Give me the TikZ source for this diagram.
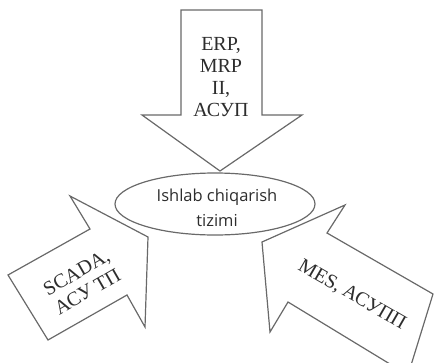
\documentclass[tikz,border=0pt]{standalone}
\usepackage{fontspec}
\setmainfont{Liberation Serif}
\newfontfamily\uifont{Open Sans}
\usetikzlibrary{shapes.geometric}
\definecolor{lc}{RGB}{105,105,105}
\definecolor{tc}{RGB}{45,45,45}
\tikzset{
  arrowshape/.style={draw=lc, line width=1.2pt, line join=miter, fill=white},
  serif/.style={text=tc, font=\fontsize{20}{22}\selectfont, align=center, inner sep=0pt},
  uitext/.style={text=tc, font=\uifont\fontsize{16.5}{25}\selectfont, align=center, inner sep=0pt}
}
\begin{document}
\begin{tikzpicture}[x=1pt,y=-1pt]
\useasboundingbox (0,0) rectangle (434,362);
\begin{scope}
\clip (0,0) rectangle (434,362);
% top arrow
\draw[arrowshape] (181,10) -- (262,10) -- (262,115) -- (302,115) -- (220,171) -- (142,115) -- (181,115) -- cycle;
% left arrow
\draw[arrowshape] (70,196) -- (148,237) -- (145,327) -- (127,295) -- (48,340) -- (8,275) -- (90,229) -- cycle;
% right arrow
\draw[arrowshape] (262,242) -- (345,205) -- (327,233) -- (433,294) -- (408,375) -- (288,302) -- (270,332) -- cycle;
\end{scope}
% system ellipse
\node[ellipse, draw=lc, line width=1.2pt, minimum width=200pt, minimum height=62pt, inner sep=0pt] (sys) at (215,204) {};
\node[uitext] (systext) at (217,208) {Ishlab chiqarish\\tizimi};
% texts
\node[serif] (toptext) at (221,77) {ERP,\\MRP\\II,\\АСУП};
\node[serif, rotate=30] (lefttext) at (82,282) {SCADA,\\АСУ ТП};
\node[serif, rotate=-30] (righttext) at (352,295) {MES, АСУПП};
\end{tikzpicture}
\end{document}
